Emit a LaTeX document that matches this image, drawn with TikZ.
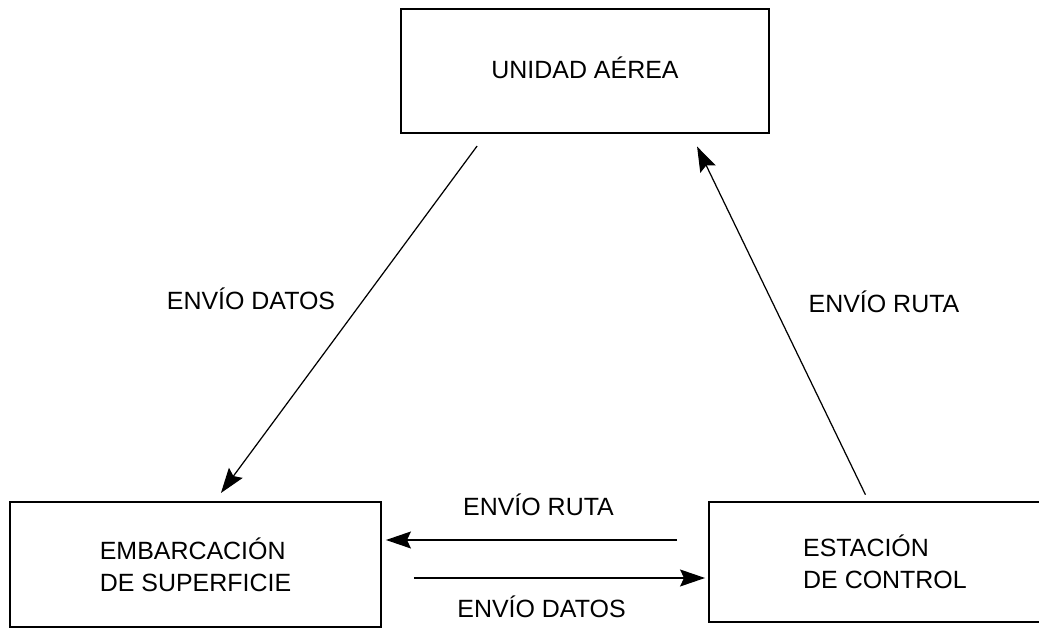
\documentclass[tikz,border=0pt]{standalone}
\usepackage{fontspec}
\setmainfont{Liberation Sans}
\usetikzlibrary{arrows.meta}
\tikzset{caja/.style={draw=black, line width=1.1pt, rectangle, inner sep=0pt, font=\fontsize{14.2}{18.2}\selectfont},
  flecha/.style={line width=.7pt, -{Stealth[length=.5cm, width=.34cm, inset=.08cm]}},
  rotulo/.style={anchor=base, font=\fontsize{14.2}{18.2}\selectfont}}

\begin{document}
\begin{tikzpicture}
\useasboundingbox (0,0) rectangle (20.78,12.56);
\clip (0,0) rectangle (20.78,12.56);
% cajas
\node[caja, minimum width=7.36cm, minimum height=2.48cm, text depth=.12cm] (aerea) at (11.70,11.14) {UNIDAD AÉREA};
\node[caja, minimum width=7.42cm, minimum height=2.5cm, align=left] (embarcacion) at (3.91,1.27) {EMBARCACIÓN\\DE SUPERFICIE};
\node[caja, minimum width=7.04cm, minimum height=2.4cm, align=left] (estacion) at (17.70,1.32) {ESTACIÓN\\DE CONTROL};
% flechas diagonales
\draw[flecha, shorten <=.3cm, shorten >=.2cm] ([xshift=-1.98cm]aerea.south) -- ([xshift=.39cm]embarcacion.north);
\draw[flecha, shorten <=.14cm, shorten >=.28cm] ([xshift=-.33cm]estacion.north) -- ([xshift=2.12cm]aerea.south);
% flechas horizontales
\coordinate (ruta) at ([yshift=.44cm]estacion.west);
\coordinate (datos) at ([yshift=-.32cm]estacion.west);
\draw[flecha, shorten <=.62cm, shorten >=.08cm] (ruta) -- (ruta -| embarcacion.east);
\draw[flecha, shorten <=.64cm, shorten >=.06cm] (datos -| embarcacion.east) -- (datos);
% rotulos
\node[rotulo] (r1) at (5.02,6.36) {ENVÍO DATOS};
\node[rotulo] (r2) at (17.68,6.30) {ENVÍO RUTA};
\node[rotulo] (r3) at (10.77,2.24) {ENVÍO RUTA};
\node[rotulo] (r4) at (10.83,0.20) {ENVÍO DATOS};
\end{tikzpicture}
\end{document}
